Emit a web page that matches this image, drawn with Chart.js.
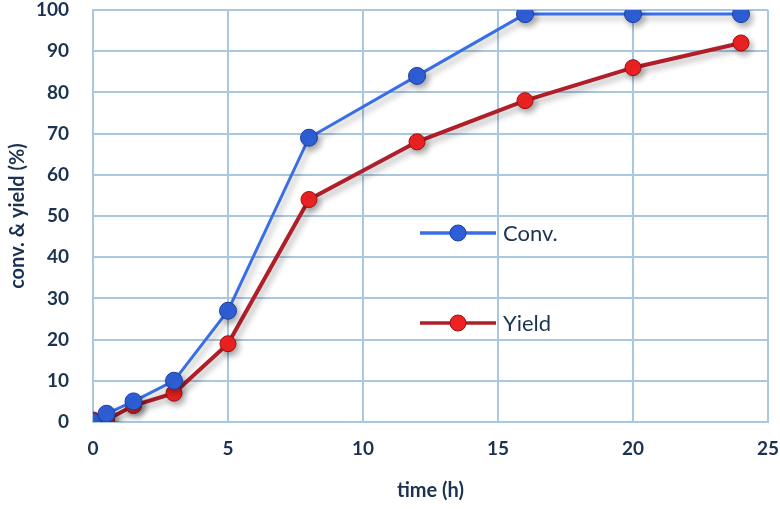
<!DOCTYPE html>
<html>
<head>
<meta charset="utf-8">
<script src="https://cdn.jsdelivr.net/npm/chart.js@4"></script>
<style>
  html, body { margin: 0; padding: 0; background: #fff; }
  #wrap { width: 780px; height: 509px; }
</style>
</head>
<body>
<div id="wrap"><canvas id="myChart" width="780" height="509"></canvas></div>
<script>
// time points (h)
const times = [0, 0.5, 1.5, 3, 5, 8, 12, 16, 20, 24];
// conversion and yield (%)
const conv = [0, 2, 5, 10, 27, 69, 84, 99, 99, 99];
const yieldVals = [0.5, 0.5, 4, 7, 19, 54, 68, 78, 86, 92];
const seriesNames = ['Conv.', 'Yield'];

const gridColor = '#a9c7df';
const textColor = '#1b3350';
const fontFamily = 'Lato, "Open Sans", sans-serif';

function toXY(xs, ys) {
  return xs.map((x, i) => ({x: x, y: ys[i]}));
}

// soft shadow under the lines, like the original
const shadowPlugin = {
  id: 'shadow',
  beforeDatasetsDraw(chart) {
    const ctx = chart.ctx;
    ctx.save();
    ctx.shadowColor = 'rgba(0,0,0,0.3)';
    ctx.shadowBlur = 6;
    ctx.shadowOffsetX = 3;
    ctx.shadowOffsetY = 4;
  },
  afterDatasetsDraw(chart) {
    chart.ctx.restore();
  }
};

// legend sitting inside the plot
const innerLegend = {
  id: 'innerLegend',
  afterDraw(chart) {
    const ctx = chart.ctx;
    const items = [
      {label: seriesNames[0], line: '#3a6ee6', fill: '#2f5fd8', border: '#1d3f9a', y: 233},
      {label: seriesNames[1], line: '#b01e2a', fill: '#ee2222', border: '#9a1010', y: 323}
    ];
    items.forEach(it => {
      ctx.save();
      ctx.strokeStyle = it.line;
      ctx.lineWidth = 3.5;
      ctx.beginPath();
      ctx.moveTo(420, it.y);
      ctx.lineTo(496, it.y);
      ctx.stroke();
      ctx.beginPath();
      ctx.arc(458, it.y, 8, 0, Math.PI * 2);
      ctx.fillStyle = it.fill;
      ctx.fill();
      ctx.strokeStyle = it.border;
      ctx.lineWidth = 1;
      ctx.stroke();
      ctx.fillStyle = textColor;
      ctx.font = '22px ' + fontFamily;
      ctx.textBaseline = 'middle';
      ctx.fillText(it.label, 503, it.y + 1);
      ctx.restore();
    });
  }
};

const ctx = document.getElementById('myChart').getContext('2d');
const myChart = new Chart(ctx, {
  type: 'line',
  data: {
    datasets: [
      {
        label: seriesNames[0],
        data: toXY(times, conv),
        borderColor: '#3a6ee6',
        borderWidth: 3,
        pointRadius: 8.5,
        pointBackgroundColor: '#2f5fd8',
        pointBorderColor: '#1d3f9a',
        pointBorderWidth: 1,
        tension: 0
      },
      {
        label: seriesNames[1],
        data: toXY(times, yieldVals),
        borderColor: '#b01e2a',
        borderWidth: 4,
        pointRadius: 8,
        pointBackgroundColor: '#ee2222',
        pointBorderColor: '#9a1010',
        pointBorderWidth: 1,
        tension: 0
      }
    ]
  },
  options: {
    responsive: false,
    animation: false,
    layout: { padding: { top: 10, right: 12, left: 0, bottom: 0 } },
    plugins: {
      legend: { display: false },
      tooltip: { enabled: false }
    },
    scales: {
      x: {
        type: 'linear',
        min: 0,
        max: 25,
        ticks: {
          stepSize: 5,
          color: textColor,
          font: { family: fontFamily, size: 19, weight: 'bold' },
          padding: 15
        },
        grid: { color: gridColor, lineWidth: 2, drawTicks: false },
        border: { color: gridColor, width: 2 },
        title: {
          display: true,
          text: 'time (h)',
          color: textColor,
          font: { family: fontFamily, size: 20, weight: 'bold' },
          padding: { top: 4, bottom: 6 }
        },
        afterFit(scale) {
          scale.height = 87;
          scale.paddingLeft = 0;
          scale.paddingRight = 0;
        }
      },
      y: {
        min: 0,
        max: 100,
        ticks: {
          stepSize: 10,
          color: textColor,
          font: { family: fontFamily, size: 19, weight: 'bold' },
          padding: 24
        },
        grid: { color: gridColor, lineWidth: 2, drawTicks: false },
        border: { color: gridColor, width: 2 },
        title: {
          display: true,
          text: 'conv. & yield (%)',
          color: textColor,
          font: { family: fontFamily, size: 20, weight: 'bold' },
          padding: { top: 6, bottom: 4 }
        },
        afterFit(scale) {
          scale.width = 93;
          scale.paddingTop = 0;
          scale.paddingBottom = 0;
        }
      }
    }
  },
  plugins: [shadowPlugin, innerLegend]
});
</script>
</body>
</html>
